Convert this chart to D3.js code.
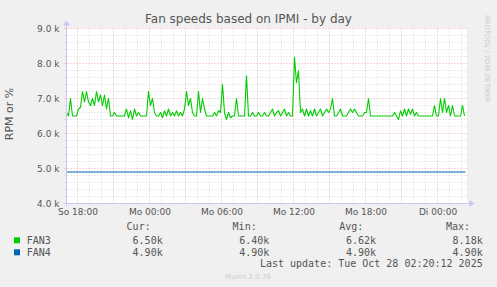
<!DOCTYPE html>
<html>
<head>
<meta charset="utf-8">
<script src="https://cdn.jsdelivr.net/npm/d3@7"></script>
<style>
  html, body { margin: 0; padding: 0; background: #f0f0f0; }
  svg { display: block; }
  text { font-family: "DejaVu Sans", sans-serif; }
  .mono { font-family: "DejaVu Sans Mono", monospace; }
</style>
</head>
<body>
<script>
// ---------- data ----------
const title = "Fan speeds based on IPMI - by day";
const yAxisLabel = "RPM or %";
const seriesNames = ["FAN3", "FAN4"];
const seriesColors = ["#00cc00", "#0066b3"];
const legendHeaders = ["Cur:", "Min:", "Avg:", "Max:"];
const fan3Stats = ["6.50k", "6.40k", "6.62k", "8.18k"];
const fan4Stats = ["4.90k", "4.90k", "4.90k", "4.90k"];
const lastUpdate = "Last update: Tue Oct 28 02:20:12 2025";
const footer = "Munin 2.0.76";
const sideText = "RRDTOOL / TOBI OETIKER";
const dayNames = ["So", "Mo", "Di", "Mi", "Do", "Fr", "Sa"];
const yTickValues = [4000, 5000, 6000, 7000, 8000, 9000];

// time window (UTC used as wall clock)
const startTime = Date.UTC(2025, 9, 26, 17, 5);
const endTime = Date.UTC(2025, 9, 28, 2, 25);
const stepMinutes = 10;

// FAN3, one value every 10 minutes starting at startTime (RPM)
const fan3Values = [
  6600, 6500, 7000, 6500, 6500, 6500, 6700, 6750, 7200, 6900,
  7200, 6900, 6800, 7000, 6800, 7200, 6900, 7100, 6800, 7100,
  6700, 7000, 6500, 6500, 6600, 6500, 6500, 6500, 6500, 6500,
  6700, 6450, 6650, 6400, 6700, 6500, 6600, 6500, 6500, 6500,
  6500, 7200, 6800, 7000, 6600, 6500, 6500, 6600, 6450, 6650,
  6500, 6700, 6500, 6600, 6500, 6650, 6500, 6600, 6500, 6700,
  7200, 6800, 7000, 6600, 6500, 6500, 7200, 6600, 7000, 6700,
  6500, 6500, 6500, 6500, 6600, 6500, 6650, 6600, 7400, 6600,
  6400, 6600, 6450, 6500, 6500, 7000, 6500, 6500, 6500, 6500,
  7650, 6500, 6500, 6600, 6500, 6500, 6600, 6500, 6500, 6600,
  6500, 6500, 6600, 6700, 6500, 6600, 6650, 6500, 6600, 6700,
  6500, 6600, 6500, 6500, 8180, 7450, 7800, 6600, 6700, 6500,
  6700, 6500, 6650, 6500, 6700, 6500, 6600, 6700, 6500, 6600,
  6700, 6600, 6700, 7000, 6500, 6500, 6600, 6700, 6500, 6500,
  6500, 6600, 6700, 6600, 6700, 6600, 6500, 6500, 6500, 6600,
  6600, 7000, 6500, 6500, 6500, 6500, 6500, 6500, 6500, 6500,
  6500, 6500, 6500, 6500, 6600, 6500, 6400, 6650, 6500, 6700,
  6500, 6700, 6550, 6700, 6500, 6600, 6500, 6500, 6500, 6500,
  6500, 6500, 6500, 6500, 6800, 6500, 6500, 7000, 6600, 7000,
  6600, 6800, 6500, 6800, 6500, 6500, 6500, 6500, 6800, 6500
];
// FAN4, constant reading sampled every 3 hours (plus the last reading)
const fan4Values = [4900, 4900, 4900, 4900, 4900, 4900, 4900, 4900, 4900, 4900, 4900, 4900, 4900];

// ---------- layout ----------
const W = 497, H = 287;
const plotL = 66.5, plotR = 466.5, plotT = 28.5, plotB = 203.5;
const txt = "#555";

const x = d3.scaleUtc().domain([new Date(startTime), new Date(endTime)]).range([plotL, plotR]);
const y = d3.scaleLinear().domain([4000, 9000]).range([plotB, plotT]);

const svg = d3.select("body").append("svg").attr("width", W).attr("height", H);
svg.append("rect").attr("width", W).attr("height", H).attr("fill", "#f0f0f0");
svg.append("rect").attr("x", 66).attr("y", 28).attr("width", 401).attr("height", 176).attr("fill", "#ffffff");

// ---------- grid ----------
const grid = svg.append("g");
const minorY = d3.range(4000, 9001, 200).filter(v => v % 1000 !== 0);
const hours = d3.utcHour.range(new Date(startTime), new Date(endTime));
const minorX = hours.filter(d => d.getUTCHours() % 3 !== 0);
const majorX = hours.filter(d => d.getUTCHours() % 3 === 0);
const minorColor = "#d6d6d6", majorColor = "#eaaeae";

grid.selectAll(".mny").data(minorY).join("line")
  .attr("x1", plotL - 2).attr("x2", plotR + 1).attr("y1", d => y(d)).attr("y2", d => y(d))
  .attr("stroke", minorColor).attr("stroke-dasharray", "1,2");
grid.selectAll(".mnx").data(minorX).join("line")
  .attr("x1", d => x(d)).attr("x2", d => x(d)).attr("y1", plotT).attr("y2", plotB + 2)
  .attr("stroke", minorColor).attr("stroke-dasharray", "1,2");
grid.selectAll(".mjy").data(yTickValues).join("line")
  .attr("x1", plotL - 2).attr("x2", plotR + 1).attr("y1", d => y(d)).attr("y2", d => y(d))
  .attr("stroke", majorColor).attr("stroke-dasharray", "1,2");
grid.selectAll(".mjx").data(majorX).join("line")
  .attr("x1", d => x(d)).attr("x2", d => x(d)).attr("y1", plotT).attr("y2", plotB + 2)
  .attr("stroke", majorColor).attr("stroke-dasharray", "1,2");

// ---------- series ----------
const fan3Data = fan3Values.map((v, i) => ({ t: new Date(startTime + i * stepMinutes * 60000), v }));
const fan4Span = (Date.UTC(2025, 9, 28, 2, 20) - startTime);
const fan4Data = fan4Values.map((v, i) => ({ t: new Date(startTime + i * fan4Span / (fan4Values.length - 1)), v }));
const line = d3.line().x(d => x(d.t)).y(d => y(d.v));

svg.append("path").datum(fan4Data).attr("d", line).attr("fill", "none")
  .attr("stroke", seriesColors[1]).attr("stroke-width", 1.2);
svg.append("path").datum(fan3Data).attr("d", line).attr("fill", "none")
  .attr("stroke", seriesColors[0]).attr("stroke-width", 1.1).attr("stroke-linejoin", "round");

// ---------- axes ----------
const axisColor = "#c8c8f4";
svg.append("line").attr("x1", plotL - 3).attr("x2", plotR + 4).attr("y1", plotB).attr("y2", plotB)
  .attr("stroke", axisColor);
svg.append("path").attr("d", `M${plotR + 3},${plotB - 3.5}L${plotR + 8},${plotB}L${plotR + 3},${plotB + 3.5}Z`)
  .attr("fill", axisColor);
svg.append("line").attr("x1", plotL).attr("x2", plotL).attr("y1", plotB + 3).attr("y2", plotT - 4)
  .attr("stroke", axisColor);
svg.append("path").attr("d", `M${plotL - 3.5},${plotT - 3}L${plotL},${plotT - 8}L${plotL + 3.5},${plotT - 3}Z`)
  .attr("fill", axisColor);

const yAxis = d3.axisLeft(y).tickValues(yTickValues)
  .tickFormat(d => (d / 1000).toFixed(1) + " k").tickSize(0).tickPadding(7);
const gy = svg.append("g").attr("transform", `translate(${plotL},0)`).call(yAxis);
gy.select(".domain").remove();
gy.selectAll("text").attr("fill", txt).style("font-size", "9px").style("font-family", "DejaVu Sans");

const fmtH = d3.utcFormat("%H:%M");
const xAxis = d3.axisBottom(x).ticks(d3.utcHour.every(6))
  .tickFormat(d => dayNames[d.getUTCDay()] + " " + fmtH(d)).tickSize(0).tickPadding(5);
const gx = svg.append("g").attr("transform", `translate(0,${plotB})`).call(xAxis);
gx.select(".domain").remove();
gx.selectAll("text").attr("fill", txt).style("font-size", "9px").style("font-family", "DejaVu Sans");

// ---------- texts ----------
svg.append("text").attr("x", 248.5).attr("y", 23).attr("text-anchor", "middle")
  .attr("fill", txt).style("font-size", "12px").text(title);
svg.append("text").attr("transform", `translate(12.5,114) rotate(-90)`).attr("text-anchor", "middle")
  .attr("fill", txt).style("font-size", "11px").text(yAxisLabel);
svg.append("text").attr("transform", `translate(485,15) rotate(90)`).attr("text-anchor", "start")
  .attr("fill", "#c8c8c8").style("font-size", "6.8px").text(sideText);

// ---------- legend ----------
const lg = svg.append("g").attr("class", "mono").attr("fill", txt).style("font-size", "10px");
const headerEnds = [150.7, 256.7, 363.3, 470];
const valueEnds = [162.7, 269.3, 376, 482.7];
lg.selectAll(".hd").data(legendHeaders).join("text")
  .attr("class", "mono").attr("x", (d, i) => headerEnds[i]).attr("y", 230.3)
  .attr("text-anchor", "end").text(d => d);
const rows = [fan3Stats, fan4Stats];
const rowY = [243.6, 255.6];
rows.forEach((stats, r) => {
  svg.append("rect").attr("x", 14).attr("y", rowY[r] - 6.3).attr("width", 6).attr("height", 6)
    .attr("fill", seriesColors[r]);
  lg.append("text").attr("class", "mono").attr("x", 26.7).attr("y", rowY[r]).text(seriesNames[r]);
  lg.selectAll(".v" + r).data(stats).join("text")
    .attr("class", "mono").attr("x", (d, i) => valueEnds[i]).attr("y", rowY[r])
    .attr("text-anchor", "end").text(d => d);
});
lg.append("text").attr("class", "mono").attr("x", 482.7).attr("y", 267.3)
  .attr("text-anchor", "end").text(lastUpdate);
svg.append("text").attr("x", 248).attr("y", 279).attr("text-anchor", "middle")
  .attr("fill", "#cccccc").style("font-size", "7px").text(footer);
</script>
</body>
</html>
